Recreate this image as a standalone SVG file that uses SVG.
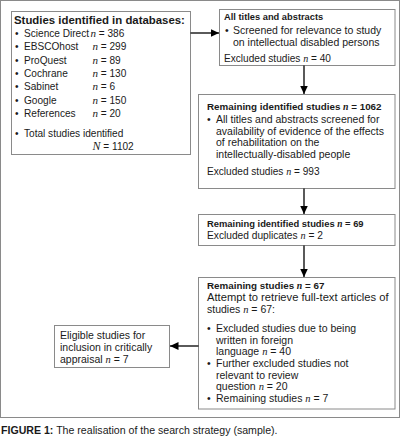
<svg xmlns="http://www.w3.org/2000/svg" width="403" height="438" viewBox="0 0 403 438">
<style>
.box{fill:#fff;stroke:#8a8a8a;stroke-width:1}
.frame{fill:#fff;stroke:#8a8a8a;stroke-width:1}
text{font-family:"Liberation Sans",Arial,sans-serif;font-size:10.5px;fill:#1a1a1a}
.lb{font-size:10.1px}
.b{font-weight:bold}
.h{font-weight:bold;font-size:9.8px}
.ex{font-size:10.1px}
.m{font-family:"Liberation Serif","Times New Roman",serif;font-style:italic}
.conn line{stroke:#000;stroke-width:1.3}
</style>
<defs>
<marker id="arr" markerUnits="userSpaceOnUse" markerWidth="9" markerHeight="8" refX="8.5" refY="4" orient="auto">
<path d="M0,0 L8.5,4 L0,8 z" fill="#000"/>
</marker>
</defs>
<rect class="frame" x="0.5" y="0.5" width="399" height="417"/>

<g id="databases">
<rect class="box" x="11.5" y="11.5" width="179" height="143"/>
<text x="14" y="24" class="b" style="font-size:11.4px">Studies identified in databases:</text>
<text class="lb" x="15" y="37">•<tspan x="24">Science Direct</tspan><tspan x="90.5" class="m" style="font-size:11px">n</tspan> = 386</text>
<text class="lb" x="15" y="50">•<tspan x="24">EBSCOhost</tspan><tspan x="92.5" class="m" style="font-size:11px">n</tspan> = 299</text>
<text class="lb" x="15" y="63.5">•<tspan x="24">ProQuest</tspan><tspan x="92.5" class="m" style="font-size:11px">n</tspan> = 89</text>
<text class="lb" x="15" y="77">•<tspan x="24">Cochrane</tspan><tspan x="92.5" class="m" style="font-size:11px">n</tspan> = 130</text>
<text class="lb" x="15" y="90">•<tspan x="24">Sabinet</tspan><tspan x="92.5" class="m" style="font-size:11px">n</tspan> = 6</text>
<text class="lb" x="15" y="103.5">•<tspan x="24">Google</tspan><tspan x="92.5" class="m" style="font-size:11px">n</tspan> = 150</text>
<text class="lb" x="15" y="117">•<tspan x="24">References</tspan><tspan x="92.5" class="m" style="font-size:11px">n</tspan> = 20</text>
<text class="lb" x="15" y="137">•<tspan x="24">Total studies identified</tspan></text>
<text class="lb" x="92.5" y="150"><tspan class="m" style="font-size:12px">N</tspan> = 1102</text>
</g>

<g id="screening">
<rect class="box" x="219.5" y="9.5" width="175.5" height="56"/>
<text x="224" y="20" class="b" style="font-size:9.3px">All titles and abstracts</text>
<text x="225" y="34">•<tspan x="233">Screened for relevance to study</tspan></text>
<text x="233" y="46">on intellectual disabled persons</text>
<text x="224" y="62" class="ex">Excluded studies <tspan class="m">n</tspan> = 40</text>
</g>

<g id="remaining1062">
<rect class="box" x="198.5" y="94.5" width="196.5" height="94"/>
<text x="207" y="110" class="h">Remaining identified studies <tspan class="m">n</tspan> = 1062</text>
<text x="207" y="123">•<tspan x="216">All titles and abstracts screened for</tspan></text>
<text x="216" y="134.5">availability of evidence of the effects</text>
<text x="216" y="146">of rehabilitation  on the</text>
<text x="216" y="157.5">intellectually-disabled people</text>
<text x="207" y="175" class="ex">Excluded studies <tspan class="m">n</tspan> = 993</text>
</g>

<g id="remaining69">
<rect class="box" x="198.5" y="214.5" width="196.5" height="31"/>
<text x="207" y="227" class="h" style="font-size:9.4px">Remaining identified studies <tspan class="m">n</tspan> = 69</text>
<text x="207" y="238.5" style="font-size:10.2px">Excluded duplicates <tspan class="m">n</tspan> = 2</text>
</g>

<g id="remaining67">
<rect class="box" x="198.5" y="277.5" width="196.5" height="131.5"/>
<text x="207" y="289" class="h">Remaining studies <tspan class="m">n</tspan> = 67</text>
<text x="207" y="301" style="font-size:11.2px">Attempt to retrieve full-text articles of</text>
<text x="207" y="312.5">studies <tspan class="m">n</tspan> = 67:</text>
<text x="207" y="332">•<tspan x="216">Excluded studies due to being</tspan></text>
<text x="216" y="343.5">written in foreign</text>
<text x="216" y="355">language  <tspan class="m">n</tspan> = 40</text>
<text x="207" y="367">•<tspan x="216">Further excluded studies not</tspan></text>
<text x="216" y="378.5">relevant to review</text>
<text x="216" y="390">question <tspan class="m">n</tspan> = 20</text>
<text x="207" y="402">•<tspan x="216">Remaining studies <tspan class="m">n</tspan> = 7</tspan></text>
</g>

<g id="eligible">
<rect class="box" x="54.5" y="325.5" width="115" height="42"/>
<text x="60" y="339">Eligible studies for</text>
<text x="60" y="351">inclusion in critically</text>
<text x="60" y="363">appraisal <tspan class="m">n</tspan> = 7</text>
</g>

<g class="conn">
<line x1="190.5" y1="33" x2="219" y2="33" marker-end="url(#arr)"/>
<line x1="304" y1="65.5" x2="304" y2="94" marker-end="url(#arr)"/>
<line x1="304" y1="188.5" x2="304" y2="214" marker-end="url(#arr)"/>
<line x1="304" y1="245.5" x2="304" y2="277" marker-end="url(#arr)"/>
<line x1="198.5" y1="346" x2="170" y2="346" marker-end="url(#arr)"/>
</g>

<text x="1" y="434" style="font-size:10.6px"><tspan class="b">FIGURE 1:</tspan> The realisation of the search strategy (sample).</text>
</svg>
